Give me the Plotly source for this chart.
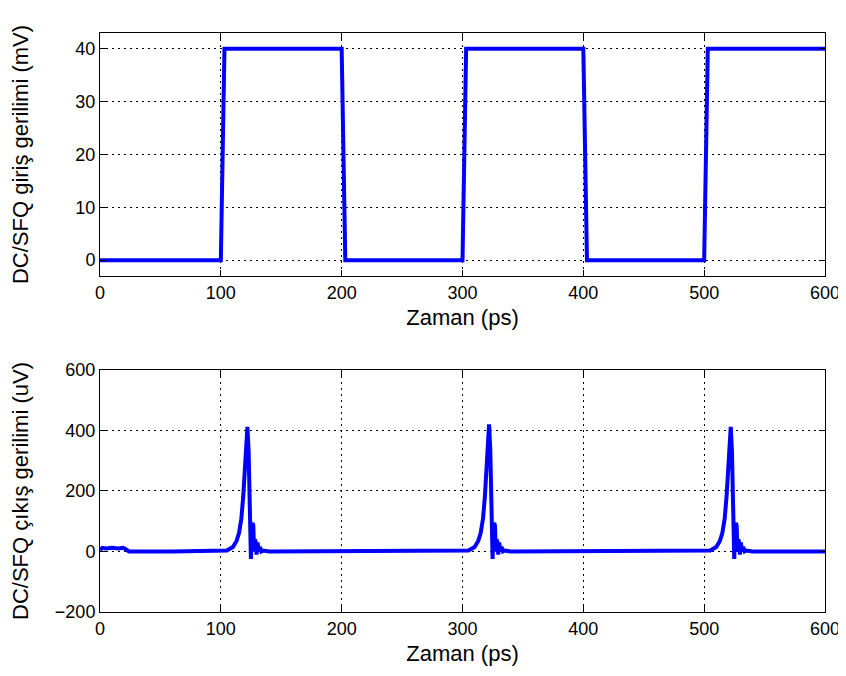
import plotly.graph_objects as go

# ---- top: DC/SFQ input voltage (mV) ----
t_in = [0, 100, 103, 200, 203, 300, 303, 400, 403, 500, 503, 600]
v_in = [0, 0, 40, 40, 0, 0, 40, 40, 0, 0, 40, 40]

# ---- bottom: DC/SFQ output voltage (uV) ----
t_out = [0, 2, 5, 10, 15, 19, 21, 24, 60, 100,
         105, 110, 113, 115, 117, 118.5, 120, 121, 122,
         123, 123.7, 124.3, 124.9, 125.5, 126.2, 126.9, 127.5, 128.2, 128.9, 129.6,
         130.4, 131.3, 132.3, 133.5, 135, 140, 200, 300,
         305, 310, 313, 315, 317, 318.5, 320, 321, 322,
         323, 323.7, 324.3, 324.9, 325.5, 326.2, 326.9, 327.5, 328.2, 328.9, 329.6,
         330.4, 331.3, 332.3, 333.5, 335, 340, 400, 500,
         505, 510, 513, 515, 517, 518.5, 520, 521, 522,
         523, 523.7, 524.3, 524.9, 525.5, 526.2, 526.9, 527.5, 528.2, 528.9, 529.6,
         530.4, 531.3, 532.3, 533.5, 535, 540, 600]
v_out = [5, 12, 10, 12, 10, 12, 8, 0, 0, 0,
         3, 15, 35, 60, 110, 180, 280, 360, 412,
         330, 150, 20, -25, 50, 95, 85, 0, 40, 30, -10, 30, 0, 15, 0, 3, 0, 0, 0,
         3, 15, 35, 60, 110, 180, 280, 365, 420,
         335, 150, 20, -25, 50, 95, 85, 0, 40, 30, -10, 30, 0, 15, 0, 3, 0, 0, 0,
         3, 15, 35, 60, 110, 180, 280, 360, 412,
         330, 150, 20, -25, 50, 95, 85, 0, 40, 30, -10, 30, 0, 15, 0, 3, 0, 0]

x_ticks = [0, 100, 200, 300, 400, 500, 600]
y_ticks_top = [0, 10, 20, 30, 40]
y_ticks_bot = [-200, 0, 200, 400, 600]

BLUE = "#0000FF"
FONT = "Liberation Sans, Arial, Helvetica, sans-serif"

fig = go.Figure()
fig.add_trace(go.Scatter(x=t_in, y=v_in, mode="lines", line=dict(color=BLUE, width=4),
                         xaxis="x", yaxis="y", showlegend=False))
fig.add_trace(go.Scatter(x=t_out, y=v_out, mode="lines", line=dict(color=BLUE, width=4),
                         xaxis="x2", yaxis="y2", showlegend=False))

axis_common = dict(showline=True, linecolor="black", linewidth=1, mirror="ticks",
                   ticks="inside", ticklen=6, tickcolor="black", automargin=False,
                   showgrid=True, gridcolor="black", gridwidth=1, griddash="2px,4px",
                   zeroline=False, tickfont=dict(size=18, color="black", family=FONT),
                   title_font=dict(size=22, color="black", family=FONT))

fig.update_layout(
    width=846, height=676,
    margin=dict(l=92, r=29, t=25, b=72),
    paper_bgcolor="white", plot_bgcolor="white",
    font=dict(family=FONT, color="black"),
    xaxis=dict(domain=[0, 1], anchor="y", range=[0, 600], tickvals=x_ticks,
               title=dict(text="Zaman (ps)", standoff=7), **axis_common),
    yaxis=dict(domain=[0.5803, 1], anchor="x", range=[-3, 43], tickvals=y_ticks_top,
               title=dict(text="DC/SFQ giriş gerilimi (mV)", standoff=45), **axis_common),
    xaxis2=dict(domain=[0, 1], anchor="y2", range=[0, 600], tickvals=x_ticks,
                title=dict(text="Zaman (ps)", standoff=8), **axis_common),
    yaxis2=dict(domain=[0, 0.418], anchor="x2", range=[-200, 600], tickvals=y_ticks_bot,
                title=dict(text="DC/SFQ çıkış gerilimi (uV)", standoff=23), **axis_common),
)

fig.write_html("out.html")
